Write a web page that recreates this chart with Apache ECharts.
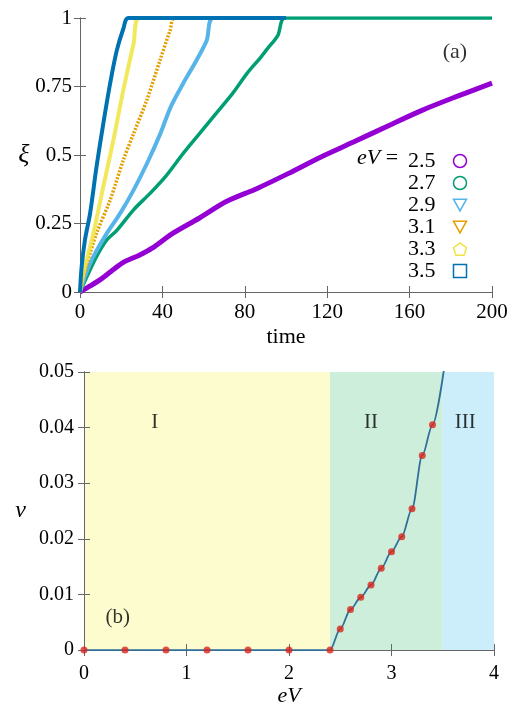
<!DOCTYPE html>
<html>
<head>
<meta charset="utf-8">
<script src="https://cdn.jsdelivr.net/npm/echarts@6/dist/echarts.min.js"></script>
<style>
  html, body { margin: 0; padding: 0; background: #fff; }
  #chart { width: 515px; height: 708px; }
</style>
</head>
<body>
<div id="chart"></div>
<script>
// panel (a): xi(t) for several eV
const t25 = [0, 5, 10, 15, 21, 25, 29, 35, 45, 58, 71, 86, 101, 117, 133, 150, 166, 182, 200];
const xi25 = [0, 0.022, 0.046, 0.075, 0.108, 0.122, 0.135, 0.16, 0.214, 0.27, 0.33, 0.378, 0.432, 0.493, 0.548, 0.608, 0.663, 0.711, 0.762];
const t27 = [0, 3, 8, 13, 18, 26, 34, 42, 50, 58, 66, 74, 81, 87, 91, 96, 99.5, 150, 200];
const xi27 = [0, 0.05, 0.129, 0.19, 0.226, 0.3, 0.36, 0.426, 0.505, 0.578, 0.651, 0.724, 0.797, 0.85, 0.888, 0.936, 1, 1, 1];
const t29 = [0, 3, 6.5, 13, 19.5, 26, 32.5, 39, 44, 50, 56.5, 61.5, 64.7, 100];
const xi29 = [0, 0.068, 0.129, 0.214, 0.287, 0.372, 0.469, 0.578, 0.675, 0.76, 0.845, 0.918, 1, 1];
const t31 = [0, 3, 8, 14.6, 21, 26, 32.4, 38.8, 43.7, 46, 100];
const xi31 = [0, 0.092, 0.214, 0.335, 0.481, 0.578, 0.7, 0.845, 0.954, 1, 1];
const t33 = [0, 2.4, 6.5, 11.3, 16.2, 21, 26, 29, 100];
const xi33 = [0, 0.092, 0.214, 0.384, 0.554, 0.736, 0.906, 1, 1];
const t35 = [0, 0.8, 2.4, 4.9, 8, 11.3, 14.6, 17.8, 21, 23.5, 100];
const xi35 = [0, 0.092, 0.19, 0.287, 0.456, 0.614, 0.76, 0.88, 0.96, 1, 1];

const evNames = ['2.5', '2.7', '2.9', '3.1', '3.3', '3.5'];
const evColors = ['#9400d3', '#009e73', '#56b4e9', '#e69f00', '#f0e442', '#0072b2'];

// panel (b): v(eV)
const eV = [0, 0.4, 0.8, 1.2, 1.6, 2.0, 2.4, 2.5, 2.6, 2.7, 2.8, 2.9, 3.0, 3.1, 3.2, 3.3, 3.4];
const vel = [0, 0, 0, 0, 0, 0, 0, 0.0038, 0.0073, 0.0095, 0.0117, 0.0147, 0.0177, 0.0204, 0.0254, 0.035, 0.0405];
const curveTail = [3.52, 0.0515];
const regionEdges = [0, 2.4, 3.5, 4];
const regionNames = ['I', 'II', 'III'];
const regionLabelX = [0.69, 2.8, 3.72];
const regionLabelY = 0.041;

const zip = (a, b) => a.map((x, i) => [x, b[i]]);
const frame = '#666';
const serif = 'Liberation Serif';

function axisBase(extra) {
  return Object.assign({
    type: 'value',
    axisLine: { show: true, lineStyle: { color: frame, width: 1 } },
    axisTick: { show: true, inside: true, length: 6, lineStyle: { color: frame } },
    splitLine: { show: false },
    axisLabel: { color: '#000', fontFamily: serif, fontSize: 21 }
  }, extra);
}
function mirror(extra) {
  const a = axisBase(extra);
  a.axisLabel = { show: false };
  return a;
}

const icons = [
  'circle', 'circle',
  'path://M0,0L10,0L5,9Z', 'path://M0,0L10,0L5,9Z',
  'path://M5,0L10,3.8L8.1,9.5L1.9,9.5L0,3.8Z',
  'rect'
];

const widths = [5, 3.5, 4, 3.5, 4, 4];
const topData = [zip(t25, xi25), zip(t27, xi27), zip(t29, xi29), zip(t31, xi31), zip(t33, xi33), zip(t35, xi35)];

const topSeries = topData.map((d, i) => ({
  name: evNames[i],
  type: 'line',
  xAxisIndex: 0,
  yAxisIndex: 0,
  data: d,
  smooth: 0.3,
  showSymbol: false,
  color: evColors[i],
  lineStyle: { width: widths[i], color: evColors[i], type: i === 3 ? [2, 1.5] : 'solid', opacity: i === 4 ? 0.85 : 1 },
  z: 2 + i
}));

const chart = echarts.init(document.getElementById('chart'));
chart.setOption({
  animation: false,
  grid: [
    { left: 80, top: 18, width: 412, height: 274 },
    { left: 84, top: 372, width: 410, height: 283 }
  ],
  xAxis: [
    axisBase({ gridIndex: 0, min: 0, max: 200, interval: 40, position: 'bottom',
      axisLabel: { color: '#000', fontFamily: serif, fontSize: 21, margin: 10 },
      name: 'time', nameLocation: 'middle', nameGap: 34,
      nameTextStyle: { color: '#000', fontFamily: serif, fontSize: 22 } }),
    mirror({ gridIndex: 0, min: 0, max: 200, interval: 40, position: 'top' }),
    axisBase({ gridIndex: 1, min: 0, max: 4, interval: 1, position: 'bottom', z: 10,
      axisLabel: { color: '#000', fontFamily: serif, fontSize: 20, margin: 14 },
      name: 'eV', nameLocation: 'middle', nameGap: 34,
      nameTextStyle: { color: '#000', fontFamily: serif, fontSize: 22, fontStyle: 'italic' } }),
    mirror({ gridIndex: 1, min: 0, max: 4, interval: 1, position: 'top', z: 10 })
  ],
  yAxis: [
    axisBase({ gridIndex: 0, min: 0, max: 1, interval: 0.25, position: 'left',
      axisLabel: { color: '#000', fontFamily: serif, fontSize: 21, margin: 8 },
      name: 'ξ', nameLocation: 'middle', nameGap: 50, nameRotate: 0,
      nameTextStyle: { color: '#000', fontFamily: serif, fontSize: 26, fontStyle: 'italic' } }),
    mirror({ gridIndex: 0, min: 0, max: 1, interval: 0.25, position: 'right' }),
    axisBase({ gridIndex: 1, min: 0, max: 0.05, interval: 0.01, position: 'left', z: 10,
      axisLabel: { color: '#000', fontFamily: serif, fontSize: 20, margin: 10 },
      name: 'v', nameLocation: 'middle', nameGap: 58, nameRotate: 0,
      nameTextStyle: { color: '#000', fontFamily: serif, fontSize: 24, fontStyle: 'italic' } }),
    mirror({ gridIndex: 1, min: 0, max: 0.05, interval: 0.01, position: 'right', z: 10 })
  ],
  legend: {
    orient: 'vertical',
    left: 403,
    top: 145,
    align: 'right',
    itemWidth: 13,
    itemHeight: 13,
    itemGap: 0,
    selectedMode: false,
    textStyle: { color: '#000', fontFamily: serif, fontSize: 22, lineHeight: 21.6, padding: [0, 13, 0, 0] },
    data: evNames.map((n, i) => ({
      name: n,
      icon: icons[i],
      itemStyle: { color: 'rgba(0,0,0,0)', borderColor: evColors[i], borderWidth: 1.5, opacity: 1 }
    }))
  },
  graphic: [
    { type: 'text', left: 357, top: 147,
      style: { text: '{i|eV} =', fill: '#000', font: '22px "Liberation Serif"',
        rich: { i: { fontStyle: 'italic', fontFamily: serif, fontSize: 22 } } } }
  ],
  series: topSeries.concat([
    {
      type: 'scatter', xAxisIndex: 0, yAxisIndex: 0, symbolSize: 0, silent: true,
      data: [[182, 0.874, '(a)']],
      label: { show: true, position: 'inside', formatter: p => p.value[2], color: '#000', fontFamily: serif, fontSize: 22 }
    },
    {
      type: 'scatter', xAxisIndex: 2, yAxisIndex: 2, data: [], silent: true, z: 1,
      markArea: {
        silent: true,
        data: [
          [{ xAxis: regionEdges[0], itemStyle: { color: '#fdfccf' } }, { xAxis: regionEdges[1] }],
          [{ xAxis: regionEdges[1], itemStyle: { color: '#cdeedb' } }, { xAxis: regionEdges[2] }],
          [{ xAxis: regionEdges[2], itemStyle: { color: '#cbeefa' } }, { xAxis: regionEdges[3] }]
        ]
      }
    },
    {
      type: 'line', xAxisIndex: 2, yAxisIndex: 2, z: 12,
      data: zip(eV, vel).concat([curveTail]),
      smooth: 0.3, smoothMonotone: 'x', showSymbol: false,
      lineStyle: { color: '#2f6f9a', width: 1.8 }
    },
    {
      type: 'scatter', xAxisIndex: 2, yAxisIndex: 2, z: 13,
      data: zip(eV, vel), symbolSize: 7,
      itemStyle: { color: '#d9261c' }
    },
    {
      type: 'scatter', xAxisIndex: 2, yAxisIndex: 2, symbolSize: 0, silent: true, z: 14,
      data: regionNames.map((n, i) => [regionLabelX[i], regionLabelY, n]).concat([[0.33, 0.0058, '(b)']]),
      label: { show: true, position: 'inside', formatter: p => p.value[2], color: '#000', fontFamily: serif, fontSize: 21 }
    }
  ])
});
</script>
</body>
</html>
